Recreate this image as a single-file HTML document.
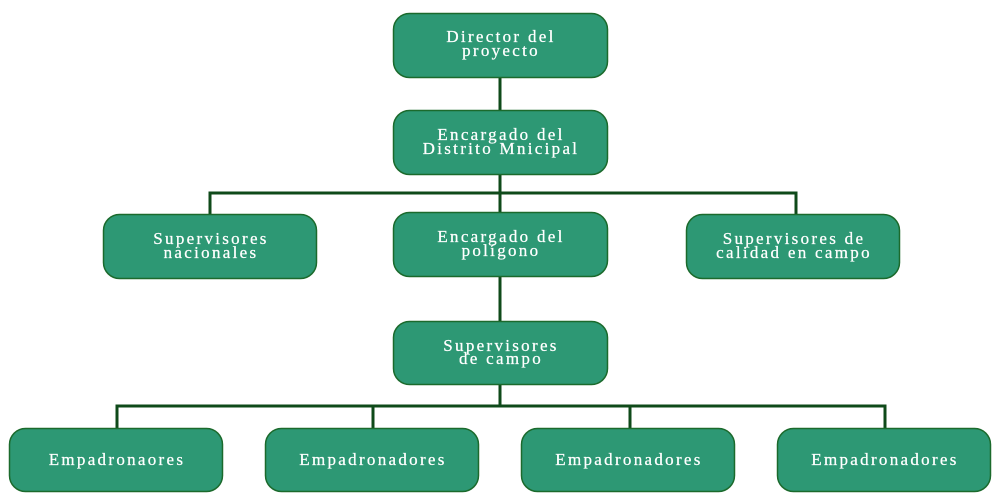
<!DOCTYPE html>
<html>
<head>
<meta charset="utf-8">
<style>
html,body{margin:0;padding:0;background:#ffffff;}
svg{display:block;}
text{font-family:"Liberation Serif",serif;font-size:17px;fill:#ffffff;stroke:#ffffff;stroke-width:0.25px;letter-spacing:2.3px;}
</style>
</head>
<body>
<svg width="1000" height="500" viewBox="0 0 1000 500" xmlns="http://www.w3.org/2000/svg">
  <g stroke="#0f4a1a" stroke-width="3" fill="none">
    <line x1="500" y1="78" x2="500" y2="110"/>
    <line x1="500" y1="175" x2="500" y2="213"/>
    <polyline points="210,214 210,193 796,193 796,214"/>
    <line x1="500" y1="277" x2="500" y2="321"/>
    <line x1="500" y1="385" x2="500" y2="406"/>
    <polyline points="117,428 117,406 885,406 885,428"/>
    <line x1="373" y1="406" x2="373" y2="428"/>
    <line x1="630" y1="406" x2="630" y2="428"/>
  </g>
  <g fill="#2d9874" stroke="#1b6a2c" stroke-width="1.5">
    <rect x="393.5" y="13.5" width="214" height="64" rx="16"/>
    <rect x="393.5" y="110.5" width="214" height="64" rx="16"/>
    <rect x="103.5" y="214.5" width="213" height="64" rx="16"/>
    <rect x="393.5" y="212.5" width="214" height="64" rx="16"/>
    <rect x="686.5" y="214.5" width="213" height="64" rx="16"/>
    <rect x="393.5" y="321.5" width="214" height="63" rx="16"/>
    <rect x="9.5" y="428.5" width="213" height="63" rx="16"/>
    <rect x="265.5" y="428.5" width="213" height="63" rx="16"/>
    <rect x="521.5" y="428.5" width="213" height="63" rx="16"/>
    <rect x="777.5" y="428.5" width="213" height="63" rx="16"/>
  </g>
  <g text-anchor="middle">
    <text x="501" y="42">Director del</text>
    <text x="501" y="56">proyecto</text>
    <text x="501" y="140">Encargado del</text>
    <text x="501" y="154">Distrito Mnicipal</text>
    <text x="211" y="244">Supervisores</text>
    <text x="211" y="258">nacionales</text>
    <text x="501" y="242">Encargado del</text>
    <text x="501" y="256">polígono</text>
    <text x="794" y="244">Supervisores de</text>
    <text x="794" y="258">calidad en campo</text>
    <text x="501" y="351">Supervisores</text>
    <text x="501" y="364">de campo</text>
    <text x="117" y="465">Empadronaores</text>
    <text x="373" y="465">Empadronadores</text>
    <text x="629" y="465">Empadronadores</text>
    <text x="885" y="465">Empadronadores</text>
  </g>
</svg>
</body>
</html>
